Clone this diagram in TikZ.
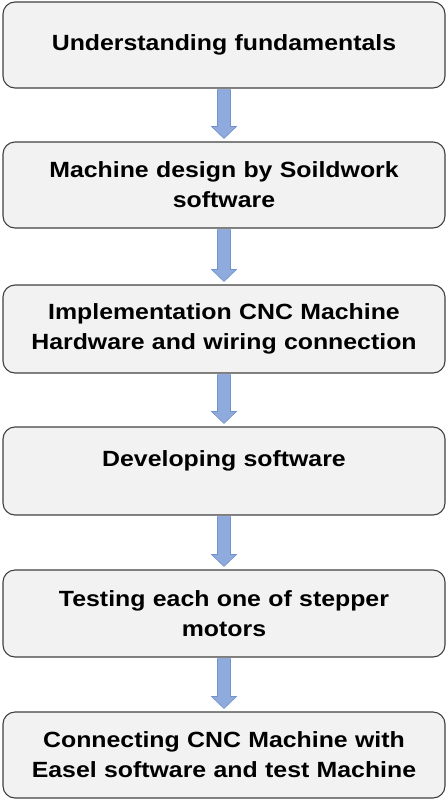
\documentclass[tikz,border=0pt]{standalone}
\usepackage{fontspec}
\setmainfont{Liberation Sans}
\newfontfamily\stagefont[FakeStretch=1.13]{Liberation Sans}
\usetikzlibrary{calc}
\definecolor{boxfill}{HTML}{F2F2F2}
\definecolor{boxline}{HTML}{404040}
\definecolor{arrowfill}{HTML}{8FAADC}
\definecolor{arrowline}{HTML}{7292CB}
\tikzset{
  stagebox/.style={rectangle, rounded corners=12pt, fill=boxfill, draw=boxline,
    line width=1.1pt, minimum width=442pt, minimum height=86pt,
    text width=436pt, align=center, inner sep=0pt,
    font=\stagefont\fontsize{22}{30}\selectfont\bfseries},
  flowarrow/.style={fill=arrowfill, draw=arrowline, line width=0.6pt}
}
% block arrow from the bottom of one box to the top of the next
\newcommand\blockarrow[2]{%
  \path[flowarrow] let \p1=(#1.south), \p2=(#2.north) in
    (\x1-6.5pt,\y1-1pt) -- (\x1+6.5pt,\y1-1pt) -- (\x1+6.5pt,\y2+15pt)
    -- (\x1+12.5pt,\y2+15pt) -- (\x1,\y2+3pt) -- (\x1-12.5pt,\y2+15pt)
    -- (\x1-6.5pt,\y2+15pt) -- cycle;}
\begin{document}
\begin{tikzpicture}
\useasboundingbox (0,0) rectangle (447pt,-801pt);
\node[stagebox] (s1) at (224pt,-45pt) {Understanding fundamentals};
\node[stagebox] (s2) at (224pt,-185pt) {Machine design by Soildwork\\software};
\node[stagebox, minimum height=88pt] (s3) at (224pt,-329pt) {Implementation CNC Machine\\Hardware and wiring connection};
\node[stagebox, minimum height=88pt] (s4) at (224pt,-471pt) {Developing software\\[-14pt]\strut};
\node[stagebox, minimum height=87pt] (s5) at (224pt,-613.5pt) {Testing each one of stepper\\motors};
\node[stagebox] (s6) at (224pt,-755pt) {Connecting CNC Machine with\\Easel software and test Machine};
\blockarrow{s1}{s2}
\blockarrow{s2}{s3}
\blockarrow{s3}{s4}
\blockarrow{s4}{s5}
\blockarrow{s5}{s6}
\end{tikzpicture}
\end{document}
